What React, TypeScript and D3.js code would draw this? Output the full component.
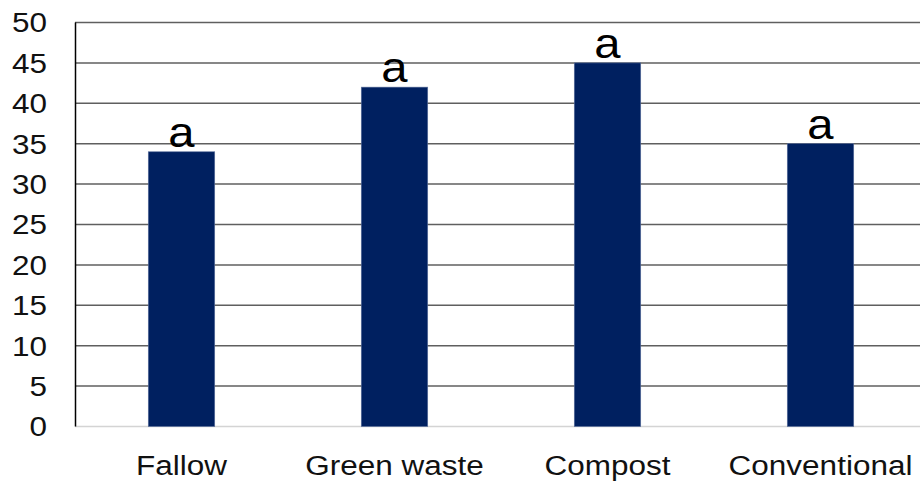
import React from 'react';
import * as d3 from 'd3';

const categories = ['Fallow', 'Green waste', 'Compost', 'Conventional'];
const values = [34, 42, 45, 35];
const letters = ['a', 'a', 'a', 'a'];
const yTicks = [0, 5, 10, 15, 20, 25, 30, 35, 40, 45, 50];

const width = 920;
const height = 484;
const font = 'Liberation Sans, Arial, sans-serif';
const sx = 1.125; // the picture is a bit wider than it is tall

const App: React.FC = () => {
  const x = d3
    .scaleBand()
    .domain(categories)
    .range([75, 927])
    .paddingInner(0.688)
    .paddingOuter(0.344);
  const y = d3.scaleLinear().domain([0, 50]).range([426.5, 22.5]);

  return (
    <svg
      width={width}
      height={height}
      style={{ position: 'absolute', left: 0, top: 0, background: '#fff' }}
    >
      {yTicks.slice(1).map((t) => (
        <line key={t} x1={75} x2={width} y1={y(t)} y2={y(t)} stroke="#5f5f5f" strokeWidth={1.5} />
      ))}
      <line x1={75} x2={width} y1={y(0)} y2={y(0)} stroke="#d4d4d4" strokeWidth={1.5} />

      {categories.map((c, i) => (
        <rect
          key={c}
          x={x(c)}
          y={y(values[i])}
          width={x.bandwidth()}
          height={y(0) - y(values[i])}
          fill="#002060"
          stroke="#5a6f9c"
          strokeWidth={0.6}
        />
      ))}
      <line x1={75.5} x2={75.5} y1={y(50)} y2={y(0)} stroke="#000" strokeWidth={1.5} />

      {yTicks.map((t) => (
        <text
          key={t}
          transform={`translate(47,${y(t)}) scale(${sx},1)`}
          textAnchor="end"
          dominantBaseline="central"
          fontFamily={font}
          fontSize={28}
          fill="#111"
        >
          {t}
        </text>
      ))}

      {categories.map((c, i) => (
        <g key={c}>
          <text
            transform={`translate(${x(c)! + x.bandwidth() / 2},${y(values[i]) - 5}) scale(${sx},1)`}
            textAnchor="middle"
            fontFamily={font}
            fontSize={42}
            fill="#000"
          >
            {letters[i]}
          </text>
          <text
            transform={`translate(${x(c)! + x.bandwidth() / 2},475) scale(${sx},1)`}
            textAnchor="middle"
            fontFamily={font}
            fontSize={28}
            fill="#111"
          >
            {c}
          </text>
        </g>
      ))}
    </svg>
  );
};

export default App;
